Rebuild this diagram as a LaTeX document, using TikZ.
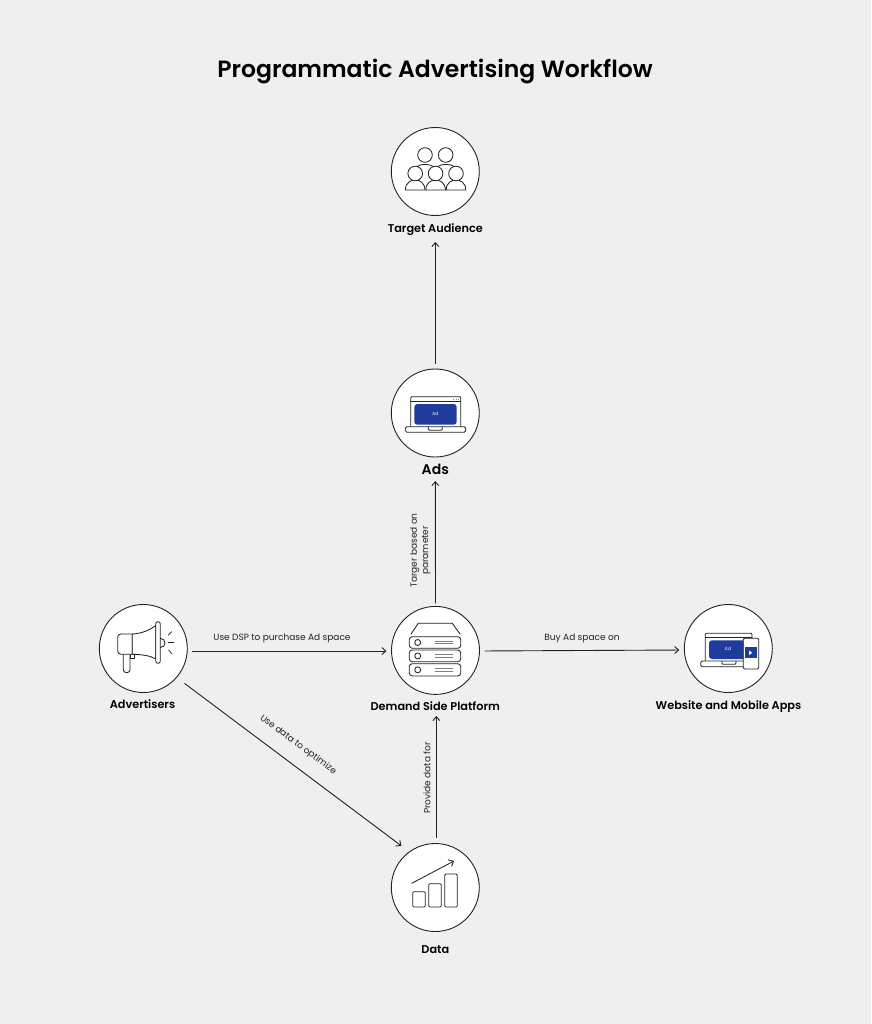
\documentclass[tikz,border=0pt]{standalone}
\usepackage{fontspec}
\setmainfont{Poppins}[BoldFont={Poppins SemiBold}]
\usetikzlibrary{arrows.meta}
\definecolor{bgc}{HTML}{EFEFEF}
\definecolor{ink}{HTML}{222222}
\definecolor{adblue}{HTML}{1F3C9C}
\tikzset{
  hub/.style={circle,draw=ink,line width=0.9pt,fill=white,minimum size=88pt,inner sep=0pt,outer sep=0pt},
  nodelabel/.style={font=\fontsize{11.3}{14}\selectfont\bfseries,text=black,inner sep=0pt},
  linklabel/.style={font=\fontsize{9}{11.4}\selectfont,text=ink,inner sep=0pt,align=center},
  link/.style={draw=ink,line width=0.9pt,-{Straight Barb[length=4pt,width=7pt,line width=0.9pt]}},
  icon/.style={draw=ink,line width=0.85pt,line cap=round,line join=round},
  thinrule/.style={draw=gray,line width=0.7pt}
}
\newcommand{\person}[2]{%
  \draw[icon,fill=white] (#1-9.8,#2+16.5) .. controls (#1-9.8,#2+9) and (#1-4,#2+6.5) .. (#1,#2+6.5) .. controls (#1+4,#2+6.5) and (#1+9.8,#2+9) .. (#1+9.8,#2+16.5) -- cycle;
  \draw[icon,fill=white] (#1,#2) circle (7.3pt);
}
\begin{document}
\begin{tikzpicture}[x=1pt,y=-1pt]
\useasboundingbox (0,0) rectangle (871,1024);
\fill[bgc] (0,0) rectangle (871,1024);
\node[inner sep=0pt,font=\fontsize{23.5}{28}\selectfont\bfseries,text=black] (title) at (435,71) {Programmatic Advertising Workflow};

\node[hub] (target) at (435.3,171.5) {};
\node[hub] (ads) at (435.3,413) {};
\node[hub] (adv) at (143.3,648.5) {};
\node[hub] (dsp) at (435.5,650.4) {};
\node[hub] (web) at (728.3,648.5) {};
\node[hub] (data) at (435.3,887.5) {};

\node[nodelabel] (targetlabel) at (435.3,230) {Target Audience};
\node[nodelabel,font=\fontsize{14}{16}\selectfont\bfseries] (adslabel) at (435.3,469.3) {Ads};
\node[nodelabel] (advlabel) at (142.5,704.5) {Advertisers};
\node[nodelabel] (dsplabel) at (435.3,706) {Demand Side Platform};
\node[nodelabel] (weblabel) at (728.5,706.5) {Website and Mobile Apps};
\node[nodelabel] (datalabel) at (435.3,950) {Data};

% connectors
\draw[link,shorten <=5pt] (ads.north) -- (targetlabel.south |- 0,242);
\draw[link,shorten <=3pt] (dsp.north) -- (adslabel.south |- 0,481);
\draw[link,shorten <=5pt,shorten >=5pt] ([yshift=-2.5pt]adv.east) -- ([yshift=-0.6pt]dsp.west);
\draw[link,shorten <=5pt,shorten >=5pt] ([yshift=-0.6pt]dsp.east) -- ([yshift=-1.5pt]web.west);
\draw[link,shorten <=6pt] ([xshift=1pt]data.north) -- ([xshift=1pt]dsplabel.south |- 0,716);
\draw[link,shorten <=10pt,shorten >=10pt] (adv.-41) -- (data.126);

\node[linklabel] (l1) at (282,638.5) {Use DSP to purchase Ad space};
\node[linklabel] (l2) at (582,638) {Buy Ad space on};
\node[linklabel,rotate=90] (l3) at (420.3,550.5) {Targer based on\\parameter};
\node[linklabel,rotate=90] (l4) at (427,778) {Provide data for};
\node[linklabel,rotate=-36.7] (l5) at (298,745) {Use data to optimize};

% Target audience icon
\draw[icon,fill=white] (416,167) .. controls (420,163.5) and (430,163.5) .. (434,167);
\draw[icon,fill=white] (437,167) .. controls (441,163.5) and (451,163.5) .. (455,167);
\draw[icon,fill=white] (425,155) circle (7.3pt);
\draw[icon,fill=white] (445.7,155) circle (7.3pt);
\person{415.2}{173.5}
\person{456}{173.5}
\person{435.6}{173.5}

% Ads icon
\draw[icon,fill=white,rounded corners=1pt] (410.7,426.7) -- (410.7,396.7) -- (460.7,396.7) -- (460.7,426.7);
\draw[icon] (410.7,401.7) -- (460.7,401.7);
\draw[thinrule,dotted] (453,399.2) -- (459,399.2);
\fill[adblue,rounded corners=3pt] (414.3,404) rectangle (456.7,424.7);
\node[inner sep=0pt,text=white,font=\fontsize{4.5}{5}\selectfont] (adtext) at (435.3,413.8) {Ad};
\draw[icon,fill=white,rounded corners=1.5pt] (405.3,426.7) rectangle (465.7,432.2);
\draw[icon,rounded corners=1.2pt] (428.3,426.7) -- (428.3,430.3) -- (442.3,430.3) -- (442.3,426.7);

% Megaphone
\draw[icon,fill=white] (123.3,650) -- (123.3,670) .. controls (123.3,673.5) and (130,673.5) .. (130,670) -- (130,650);
\draw[icon] (130,652) -- (130,658) -- (134.7,658) -- (134.7,654);
\draw[icon,fill=white] (132.3,634) -- (121,634) .. controls (118.5,634) and (117.7,635.5) .. (117.7,637) -- (117.7,651) .. controls (117.7,653) and (119,654.3) .. (121,654.3) -- (132.3,654.3) -- cycle;
\draw[icon,fill=white] (132.3,634) .. controls (142,633.5) and (150,630) .. (155.7,625.5) -- (155.7,659) .. controls (150,655.5) and (142,654.5) .. (132.3,654.3) -- cycle;
\draw[icon,fill=white,rounded corners=2.2pt] (155.7,621.7) rectangle (160.3,663.3);
\draw[icon] (160.3,638.3) .. controls (166.5,638.3) and (166.5,647.5) .. (160.3,647.5);
\draw[icon,line width=0.7pt] (168.3,635) -- (171.7,631.7);
\draw[icon,line width=0.7pt] (168.3,642.3) -- (174,642.3);
\draw[icon,line width=0.7pt] (168.7,650) -- (172,654);

% Server icon
\draw[icon,fill=white] (411,634) -- (418.3,623.3) -- (452.3,623.3) -- (460,634);
\foreach \ya/\yb/\yc in {636.7/648.3/642.5,650/661.7/655.9,663.7/676/669.8}{
  \draw[icon,fill=white,rounded corners=3pt] (409.3,\ya) rectangle (460.7,\yb);
  \draw[icon] (417.7,\yc) circle (3pt);
  \draw[thinrule] (435,\yc-1.2) -- (453.3,\yc-1.2);
  \draw[thinrule] (435,\yc+1.2) -- (453.3,\yc+1.2);
}

% Website and mobile icon
\draw[icon,fill=white,rounded corners=1pt] (705.3,661) -- (705.3,633.3) -- (752,633.3) -- (752,661);
\draw[icon] (705.3,637.3) -- (752,637.3);
\fill[adblue,rounded corners=3pt] (709,640.3) rectangle (749,659);
\node[inner sep=0pt,text=white,font=\fontsize{4.5}{5}\selectfont] (adtexttwo) at (728,649) {Ad};
\draw[icon,fill=white,rounded corners=1.5pt] (700.7,661) rectangle (748,666.7);
\draw[icon,rounded corners=1pt] (722,661) -- (722,664.3) -- (736,664.3) -- (736,661);
\draw[icon,fill=white,rounded corners=1.2pt] (743.3,638.3) rectangle (758.7,669);
\fill[adblue] (744.7,647.3) rectangle (757.3,658.3);
\fill[white] (749,650.6) -- (752.4,652.8) -- (749,655) -- cycle;

% Data icon
\draw[icon,rounded corners=1.2pt] (412.7,891.7) rectangle (425.3,907);
\draw[icon,rounded corners=1.2pt] (428.7,883.7) rectangle (441.3,907);
\draw[icon,rounded corners=1.2pt] (444.7,874) rectangle (457.3,907);
\draw[icon,-{Straight Barb[length=4pt,width=7.5pt,line width=0.85pt]}] (411.7,883.3) -- (454,861);
\end{tikzpicture}
\end{document}
